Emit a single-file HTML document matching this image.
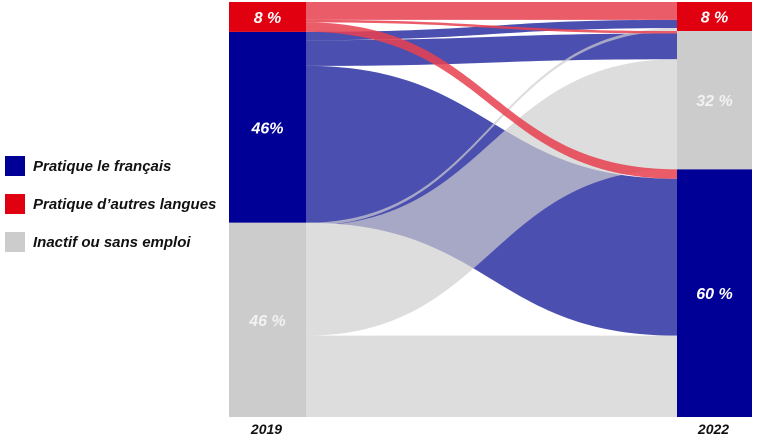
<!DOCTYPE html>
<html><head><meta charset="utf-8"><style>
html,body{margin:0;padding:0;background:#fff;width:760px;height:441px;overflow:hidden;font-family:"Liberation Sans",sans-serif}
svg{display:block}
text{font-family:"Liberation Sans",sans-serif;font-style:italic;font-weight:bold}
</style></head><body>
<svg id="chart" width="760" height="441"></svg>
<script>
const categories = ["Pratique le français", "Pratique d’autres langues", "Inactif ou sans emploi"];
const years = ["2019", "2022"];
// flows: source index -> target index, value in %
const flowSource = [1, 1, 1, 0, 0, 0, 2, 2, 2];
const flowTarget = [1, 2, 0, 1, 2, 0, 1, 2, 0];
const flowValues = [4.3, 0.6, 2.3, 2.0, 6.2, 37.8, 0.7, 26.5, 19.6];
const labels2019 = ["46%", "8 %", "46 %"];
const labels2022 = ["60 %", "8 %", "32 %"];
const order2019 = [1, 0, 2];
const order2022 = [1, 2, 0];

const NS = "http://www.w3.org/2000/svg";
const svg = document.getElementById("chart");
const nodeColors = ["#000096", "#e00010", "#cccccc"];
const flowColors = ["#4b4fb0", "#e8404f", "#cfcfcf"];
const flowOpacity = [1, 0.85, 0.7];
const top0 = 2, bottom0 = 417;
const xL0 = 229, xL1 = 306, xR0 = 677, xR1 = 752;
const total = flowValues.reduce((a, b) => a + b, 0);
const scale = v => v / total * (bottom0 - top0);

function mk(tag, attrs) {
  const e = document.createElementNS(NS, tag);
  for (const k in attrs) e.setAttribute(k, attrs[k]);
  return e;
}
const leftTot = [0, 0, 0], rightTot = [0, 0, 0];
flowValues.forEach((v, i) => { leftTot[flowSource[i]] += v; rightTot[flowTarget[i]] += v; });
const leftY = [], rightY = [];
let y = top0;
order2019.forEach(c => { leftY[c] = y; y += scale(leftTot[c]); });
y = top0;
order2022.forEach(c => { rightY[c] = y; y += scale(rightTot[c]); });

const lo = leftY.slice();
const flowGeo = [];
order2019.forEach(s => {
  order2022.forEach(t => {
    flowValues.forEach((v, i) => {
      if (flowSource[i] === s && flowTarget[i] === t) {
        const h = scale(v);
        flowGeo.push({ i, s, h, y0: lo[s], y1: 0 });
        lo[s] += h;
      }
    });
  });
});
order2022.forEach(t => {
  let o = rightY[t];
  order2019.forEach(s => {
    flowGeo.forEach(g => {
      if (flowSource[g.i] === s && flowTarget[g.i] === t) { g.y1 = o; o += g.h; }
    });
  });
});
const gFlows = mk("g", {});


svg.appendChild(gFlows);
const drawOrder = [0, 2, 1];
drawOrder.forEach(s => {
  flowGeo.filter(g => g.s === s).forEach(g => {
    const xm = (xL1 + xR0) / 2;
    const d = `M${xL1},${g.y0} C${xm},${g.y0} ${xm},${g.y1} ${xR0},${g.y1} L${xR0},${g.y1 + g.h} C${xm},${g.y1 + g.h} ${xm},${g.y0 + g.h} ${xL1},${g.y0 + g.h} Z`;
    const p = mk("path", { d, fill: flowColors[s], "fill-opacity": flowOpacity[s] });
    
    
    gFlows.appendChild(p);
  });
});
[0, 1, 2].forEach(c => {
  const hL = scale(leftTot[c]), hR = scale(rightTot[c]);
  const r1 = mk("rect", { x: xL0, y: leftY[c], width: xL1 - xL0, height: hL, fill: nodeColors[c] });
  
  
  svg.appendChild(r1);
  const r2 = mk("rect", { x: xR0, y: rightY[c], width: xR1 - xR0, height: hR, fill: nodeColors[c] });
  
  
  svg.appendChild(r2);
  const t1 = mk("text", { x: (xL0 + xL1) / 2, y: leftY[c] + hL / 2 + 6, "text-anchor": "middle", "font-size": 16, fill: c === 2 ? "#f2f2f2" : "#fff" });
  t1.textContent = labels2019[c];
  
  
  svg.appendChild(t1);
  const t2 = mk("text", { x: (xR0 + xR1) / 2, y: rightY[c] + hR / 2 + 6, "text-anchor": "middle", "font-size": 16, fill: c === 2 ? "#f2f2f2" : "#fff" });
  t2.textContent = labels2022[c];
  
  
  svg.appendChild(t2);
});
[[years[0], (xL0 + xL1) / 2 - 1], [years[1], (xR0 + xR1) / 2 - 1]].forEach((a, k) => {
  const t = mk("text", { x: a[1], y: 434, "text-anchor": "middle", "font-size": 14, fill: "#111" });
  t.textContent = a[0];
  
  
  svg.appendChild(t);
});
const legY = [156, 194, 232];
categories.forEach((c, k) => {
  const r = mk("rect", { x: 5, y: legY[k], width: 20, height: 20, fill: nodeColors[k] });
  
  
  svg.appendChild(r);
  const t = mk("text", { x: 33, y: legY[k] + 15, "font-size": 15, fill: "#111" });
  t.textContent = c;
  
  
  svg.appendChild(t);
});
</script>
</body></html>
